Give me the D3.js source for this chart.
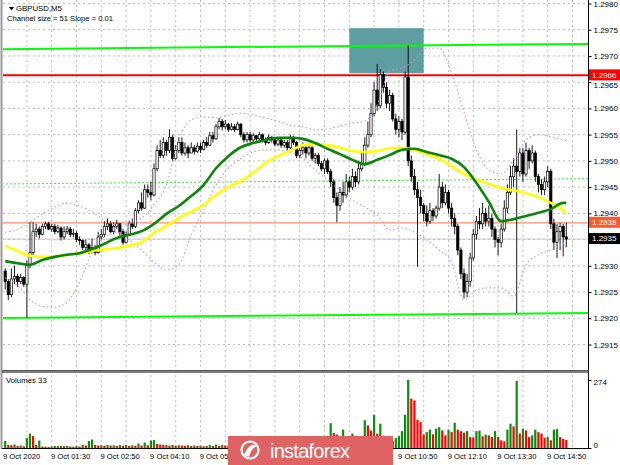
<!DOCTYPE html>
<html><head><meta charset="utf-8">
<script src="https://cdn.jsdelivr.net/npm/d3@7"></script>
<style>
html,body{margin:0;padding:0;background:#fff;}
svg{display:block;}
text{font-family:"Liberation Sans",Arial,sans-serif;}
</style>
</head><body>
<svg id="c" width="620" height="465"></svg>
<script>
// ---------- DATA ----------
const symbolTitle = "GBPUSD,M5";
const channelText = "Channel size = 51 Slope = 0.01";
const volumeTitle = "Volumes 33";
const BASE = 1.29;          // all price arrays below are in pips above 1.2900
const firstBar = 3;         // first visible bar = 00:15 (5-minute bar number of the day)

const opens = [
29.0,27.0,24.5,27.5,28.0,27.0,27.8,26.5,30.0,32.5,
36.5,37.0,36.0,37.5,38.0,37.0,37.5,36.5,37.2,35.5,
36.5,37.0,36.0,36.2,35.0,34.8,33.5,34.0,32.8,33.5,
32.5,35.5,36.0,37.5,38.0,36.5,37.5,38.0,36.5,34.5,
36.0,38.0,37.5,40.5,42.0,41.0,44.5,44.0,43.5,48.5,
52.0,51.0,53.5,52.0,54.5,50.5,52.0,53.5,51.5,52.5,
51.5,52.5,51.8,52.8,52.2,53.5,53.0,54.8,54.2,56.5,
57.5,56.5,57.0,56.0,56.5,56.0,57.0,55.0,54.0,55.0,
54.0,54.8,54.2,55.0,54.0,53.5,54.5,54.0,53.2,54.0,
53.0,53.5,52.5,54.5,53.5,51.0,52.0,52.5,51.5,52.5,
50.5,51.0,49.5,48.5,50.0,48.0,46.0,43.0,41.5,44.0,
43.5,46.0,45.0,47.0,46.0,48.5,49.5,53.0,55.0,59.0,
63.5,60.5,66.5,64.0,61.0,62.5,58.0,56.0,57.5,55.5,
66.0,50.0,47.0,44.5,43.0,41.5,40.0,38.5,40.5,39.5,
41.0,45.0,42.0,44.0,41.0,39.0,37.5,33.0,28.5,25.0,
27.0,31.5,36.0,38.5,38.0,40.0,38.5,39.0,37.0,35.0,
34.5,37.0,41.0,44.0,47.0,49.0,48.0,51.5,47.5,52.0,
50.0,51.5,47.0,45.5,44.5,46.0,48.0,38.0,34.5,36.5,
37.5,35.5];
const highs = [
29.5,27.5,29.5,30.0,28.5,28.5,28.0,31.0,38.3,38.3,
38.0,37.5,38.0,38.4,38.4,38.0,38.0,37.8,37.5,37.5,
37.6,37.4,37.0,36.6,35.6,35.0,35.0,34.3,35.2,34.0,
36.5,37.0,38.5,39.0,38.5,38.3,38.8,38.2,37.0,36.5,
38.6,39.0,41.0,42.5,44.0,45.5,45.5,46.0,49.5,53.0,
54.0,54.5,54.0,56.0,55.0,53.0,54.5,54.5,53.5,53.0,
53.5,53.0,53.5,53.5,54.0,54.5,55.5,55.5,57.0,58.2,
58.0,57.8,57.2,57.2,57.0,57.5,57.2,55.5,55.5,55.5,
55.3,55.0,55.5,55.2,54.5,55.0,54.8,54.5,54.5,54.2,
54.0,54.0,55.0,54.8,53.8,52.5,53.5,52.8,53.2,52.8,
51.5,51.5,50.0,50.5,50.5,48.5,46.5,44.0,45.0,46.0,
47.5,47.0,48.5,48.0,50.0,51.5,54.5,57.5,61.0,65.0,
68.5,67.5,67.0,65.0,63.5,63.0,59.0,58.5,58.0,67.0,
72.0,51.0,48.5,46.0,44.5,42.0,41.5,42.0,41.0,41.5,
47.5,46.0,45.5,44.5,42.0,40.0,38.0,33.5,29.5,28.5,
32.5,37.0,39.5,41.0,42.0,41.0,41.5,40.0,37.5,35.5,
38.0,42.5,45.5,49.0,50.5,56.0,52.5,52.5,53.5,52.5,
53.0,52.0,47.5,46.5,47.0,49.0,48.5,39.0,38.0,38.2,
38.0,38.2];
const lows = [
25.5,23.5,24.0,26.5,26.0,26.5,26.0,20.1,29.5,32.0,
35.5,35.2,35.8,37.0,36.8,36.5,36.0,36.2,34.8,35.0,
36.0,35.5,35.4,34.5,34.0,33.0,32.5,32.2,32.5,32.0,
32.3,35.0,35.5,36.8,36.0,36.0,37.0,35.5,34.0,34.2,
35.8,37.0,37.2,40.0,40.5,40.8,43.0,42.5,43.2,48.0,
50.5,50.5,51.0,51.5,50.0,50.2,51.5,51.0,51.0,50.5,
51.5,51.2,51.5,51.5,52.0,52.5,52.8,53.5,54.0,56.0,
55.8,56.0,55.5,55.8,55.5,55.8,54.5,53.5,53.5,53.5,
53.5,53.8,54.0,53.5,53.0,53.2,53.5,52.8,52.8,52.5,
52.5,52.0,52.2,53.0,50.5,50.5,51.2,50.5,51.0,50.0,
49.5,49.0,48.0,47.5,47.5,45.0,42.0,38.3,40.5,42.0,
43.0,44.0,44.5,45.0,45.5,48.0,49.0,52.5,54.5,58.5,
59.5,60.0,63.0,60.0,59.5,57.5,55.0,54.5,54.0,55.0,
49.0,46.0,43.5,29.8,40.0,38.5,37.5,38.0,38.5,39.0,
40.5,41.0,41.5,40.0,37.5,36.0,32.0,27.5,23.8,24.0,
26.0,31.0,35.0,37.0,37.0,37.5,37.5,35.5,33.5,32.0,
33.5,36.5,40.0,43.5,45.0,21.0,47.0,46.0,47.0,48.5,
49.5,46.0,44.0,43.5,43.5,45.0,37.0,33.0,31.5,33.0,
31.8,33.5];
const closes = [
27.0,24.5,27.5,28.0,27.0,27.8,26.5,30.0,32.5,36.5,
37.0,36.0,37.5,38.0,37.0,37.5,36.5,37.2,35.5,36.5,
37.0,36.0,36.2,35.0,34.8,33.5,34.0,32.8,33.5,32.5,
35.5,36.0,37.5,38.0,36.5,37.5,38.0,36.5,34.5,36.0,
38.0,37.5,40.5,42.0,41.0,44.5,44.0,43.5,48.5,52.0,
51.0,53.5,52.0,54.5,50.5,52.0,53.5,51.5,52.5,51.5,
52.5,51.8,52.8,52.2,53.5,53.0,54.8,54.2,56.5,57.5,
56.5,57.0,56.0,56.5,56.0,57.0,55.0,54.0,55.0,54.0,
54.8,54.2,55.0,54.0,53.5,54.5,54.0,53.2,54.0,53.0,
53.5,52.5,54.5,53.5,51.0,52.0,52.5,51.5,52.5,50.5,
51.0,49.5,48.5,50.0,48.0,46.0,43.0,41.5,44.0,43.5,
46.0,45.0,47.0,46.0,48.5,49.5,53.0,55.0,59.0,63.5,
60.5,66.5,64.0,61.0,62.5,58.0,56.0,57.5,55.5,66.0,
50.0,47.0,44.5,43.0,41.5,40.0,38.5,40.5,39.5,41.0,
45.0,42.0,44.0,41.0,39.0,37.5,33.0,28.5,25.0,27.0,
31.5,36.0,38.5,38.0,40.0,38.5,39.0,37.0,35.0,34.5,
37.0,41.0,44.0,47.0,49.0,48.0,51.5,47.5,52.0,50.0,
51.5,47.0,45.5,44.5,46.0,48.0,38.0,34.5,36.5,37.5,
35.5,35.1];
const volumes = [
28,12,11,14,8,10,7,40,58,48,
12,30,6,5,4,6,8,7,9,7,
8,6,5,8,6,12,10,28,34,12,
10,11,9,12,10,11,8,12,9,12,
8,11,9,18,10,22,11,30,32,16,
14,12,13,10,12,9,11,10,9,11,
8,10,8,9,7,8,12,8,14,9,
12,10,8,11,9,12,10,8,9,14,
10,9,12,10,8,11,9,13,10,9,
14,10,16,12,20,14,12,15,11,18,
14,16,22,18,30,100,60,54,40,74,
40,36,58,30,40,30,112,91,70,134,
58,98,50,45,40,30,40,48,68,134,
274,199,192,114,105,55,64,74,55,78,
84,71,51,74,64,102,74,68,62,68,
44,43,68,70,47,54,51,44,68,44,
31,27,74,98,87,270,58,78,71,44,
51,74,64,58,40,44,31,74,76,44,
37,33];

// indicator lines read at every 4th bar
const maBars = [3,7,11,15,19,23,27,31,35,39,43,47,51,55,59,63,67,71,75,79,83,87,91,95,99,103,107,111,115,119,123,127,131,135,139,143,147,151,155,159,163,167,171,175,179,183,184];
const maYellow = [33.8,32.8,31.9,31.7,31.8,32.1,32.4,32.8,33.1,33.4,33.8,34.5,36.3,37.6,39.1,40.3,41.6,43.5,45.0,46.2,47.7,49.6,50.9,51.9,53.0,53.2,53.0,52.5,51.9,51.7,51.9,52.4,52.5,52.1,51.3,50.4,49.0,47.5,46.4,45.6,44.8,44.4,43.9,43.1,42.0,40.6,40.1];
const maGreen = [30.9,30.5,30.2,31.1,31.7,32.1,32.4,33.2,34.2,35.3,35.9,36.6,38.0,39.9,41.4,43.3,45.4,48.6,50.9,52.6,53.4,54.0,54.4,54.4,54.2,53.4,52.3,51.3,50.2,49.4,50.2,51.1,52.1,52.3,51.7,51.1,50.4,48.8,45.8,42.2,38.5,38.9,39.5,40.1,40.8,42.0,42.0];
const bandUpper = [36.4,37.0,38.3,39.9,41.2,42.0,41.4,40.3,38.7,37.8,38.0,39.1,41.6,45.4,54.0,57.8,58.4,58.2,58.7,59.1,58.7,58.2,57.6,56.8,56.5,55.9,56.1,56.6,57.2,57.6,60.7,67.1,67.7,69.2,71.5,71.5,66.8,59.3,52.1,48.3,47.5,50.2,54.0,55.0,54.6,54.0,53.8];
const bandLower = [27.7,26.3,23.5,22.3,22.1,23.1,26.9,32.6,35.5,36.4,34.9,33.0,30.7,29.2,30.2,35.9,40.6,45.4,48.6,50.5,51.7,52.1,52.1,51.7,50.5,48.3,46.4,44.4,42.5,41.2,39.7,36.8,37.2,36.4,34.9,33.0,30.7,23.5,25.4,25.8,25.8,24.2,30.2,32.1,33.0,34.3,34.5];

// objects
const channelBars = [2, 191];
const channelTop = [71.3, 72.3];
const channelMid = [45.6, 46.6];
const channelBottom = [20.05, 21.0];
const levelRed = 66.3;
const levelOrange = 38.2;
const bidLevel = 35.1;
const zoneBars = [114, 138];
const zonePips = [66.7, 75.3];

const priceTicks = [1.2915,1.2920,1.2925,1.2930,1.2935,1.2940,1.2945,1.2950,1.2955,1.2960,1.2965,1.2970,1.2975,1.2980];
// labels that remain visible (06:50, 08:10, 09:30 are covered by the watermark in the reference)
const timeTickBars = [3,18,34,50,66,130,146,162,178];
const timeTickLabels = ["9 Oct 2020","9 Oct 01:30","9 Oct 02:50","9 Oct 04:10","9 Oct 05:30","9 Oct 10:50","9 Oct 12:10","9 Oct 13:30","9 Oct 14:50"];
const gridBars = [10,18,26,34,42,50,58,66,74,82,90,98,106,114,122,130,138,146,154,162,170,178,186];
const volumeMax = 274;

// ---------- DRAW ----------
const P = v => BASE + v / 1e4;
const svg = d3.select("#c");
const L = 3, R = 588, MT = 0, MB = 370, VT = 373, VB = 448;

const x = d3.scaleLinear().domain([18, 178]).range([51.7, 547.7]);
const y = d3.scaleLinear().domain([1.2915, 1.2980]).range([344.5, 3.5]);
const yv = d3.scaleLinear().domain([0, volumeMax]).range([VB, 380]);

const defs = svg.append("defs");
defs.append("clipPath").attr("id","cm").append("rect").attr("x",L).attr("y",MT).attr("width",R-L).attr("height",MB-MT);
defs.append("clipPath").attr("id","cv").append("rect").attr("x",L).attr("y",VT).attr("width",R-L).attr("height",VB-VT);

svg.append("rect").attr("width",620).attr("height",465).attr("fill","#fff");

const gm = svg.append("g").attr("clip-path","url(#cm)");
const gv = svg.append("g").attr("clip-path","url(#cv)");

// grid
const gridCol = "#bdbdbd";
gm.selectAll(".hg").data(priceTicks).join("line")
  .attr("x1",L).attr("x2",R).attr("y1",d=>y(d)).attr("y2",d=>y(d))
  .attr("stroke",gridCol).attr("stroke-dasharray","2,3").attr("stroke-width",1);
[gm, gv].forEach(g => g.selectAll(".vg").data(gridBars).join("line")
  .attr("x1",d=>x(d)).attr("x2",d=>x(d)).attr("y1",0).attr("y2",VB)
  .attr("stroke",gridCol).attr("stroke-dasharray","2,3").attr("stroke-width",1));

// zone rectangle (background object)
gm.append("rect")
  .attr("x",x(zoneBars[0])).attr("width",x(zoneBars[1])-x(zoneBars[0]))
  .attr("y",y(P(zonePips[1]))).attr("height",y(P(zonePips[0]))-y(P(zonePips[1])))
  .attr("fill","#5f9ea0");

// horizontal levels
function hline(v, col, w, dash){
  gm.append("line").attr("x1",L).attr("x2",R).attr("y1",y(P(v))).attr("y2",y(P(v)))
    .attr("stroke",col).attr("stroke-width",w).attr("stroke-dasharray",dash||null);
}
hline(bidLevel, "#c8c8c8", 1);
hline(levelOrange, "#ff8a66", 1.2);
hline(levelRed, "#ff0000", 2);

// channel
function chan(v, col, w, dash){
  gm.append("line").attr("x1",x(channelBars[0])).attr("x2",x(channelBars[1]))
    .attr("y1",y(P(v[0]))).attr("y2",y(P(v[1])))
    .attr("stroke",col).attr("stroke-width",w).attr("stroke-dasharray",dash||null);
}
chan(channelTop, "#00ff00", 2);
chan(channelBottom, "#00ff00", 2);
chan(channelMid, "#33ee33", 1, "2,2");

// candles
const bars = closes.map((c,i)=>({t:firstBar+i, o:opens[i], h:highs[i], l:lows[i], c}));
gm.selectAll(".wick").data(bars).join("line")
  .attr("x1",d=>x(d.t)).attr("x2",d=>x(d.t))
  .attr("y1",d=>y(P(d.h))).attr("y2",d=>y(P(d.l)))
  .attr("stroke","#000").attr("stroke-width",0.9);
gm.selectAll(".body").data(bars).join("rect")
  .attr("x",d=>x(d.t)-1.15).attr("width",2.3)
  .attr("y",d=>y(P(Math.max(d.o,d.c))))
  .attr("height",d=>Math.max(0.8, Math.abs(y(P(d.o))-y(P(d.c)))))
  .attr("fill",d=>d.c>=d.o?"#fff":"#000")
  .attr("stroke","#000").attr("stroke-width",0.7);

// bands and MAs
const line = arr => d3.line().x((d,i)=>x(maBars[i])).y(d=>y(P(d))).curve(d3.curveMonotoneX)(arr);
[bandUpper, bandLower].forEach(b=>gm.append("path").attr("d",line(b))
  .attr("fill","none").attr("stroke","#c98fdc").attr("stroke-width",1.1).attr("stroke-dasharray","1.5,2.5"));
gm.append("path").attr("d",line(maYellow)).attr("fill","none").attr("stroke","#ffff00").attr("stroke-width",2.6);
gm.append("path").attr("d",line(maGreen)).attr("fill","none").attr("stroke","#0b860b").attr("stroke-width",2.6);

// volumes
gv.selectAll(".vol").data(volumes).join("rect")
  .attr("x",(d,i)=>x(firstBar+i)-1.1).attr("width",2.2)
  .attr("y",d=>yv(d)).attr("height",d=>VB-yv(d))
  .attr("fill",(d,i)=> i>0 && d>volumes[i-1] ? "#0a8f0a" : (i===0 ? "#0a8f0a" : "#ff0000"));

// frame
svg.append("line").attr("x1",1.5).attr("x2",1.5).attr("y1",0).attr("y2",VB+1).attr("stroke","#9a9a9a").attr("stroke-width",2);
svg.append("line").attr("x1",R+0.5).attr("x2",R+0.5).attr("y1",0).attr("y2",VB+1).attr("stroke","#000").attr("stroke-width",1);
svg.append("line").attr("x1",2).attr("x2",R+1).attr("y1",370.5).attr("y2",370.5).attr("stroke","#555").attr("stroke-width",1);
svg.append("line").attr("x1",2).attr("x2",R+1).attr("y1",372).attr("y2",372).attr("stroke","#000").attr("stroke-width",1.2);
svg.append("line").attr("x1",2).attr("x2",R+1).attr("y1",VB+0.5).attr("y2",VB+0.5).attr("stroke","#000").attr("stroke-width",1);

// price axis
const ax = svg.append("g").attr("transform",`translate(${R+0.5},0)`)
  .call(d3.axisRight(y).tickValues(priceTicks).tickFormat(d3.format(".4f")).tickSize(3).tickPadding(2));
ax.select(".domain").remove();
ax.selectAll("text").attr("font-size",8).attr("font-family","Liberation Sans, Arial, sans-serif").attr("fill","#000")
  .attr("dy", d => Math.abs(d-1.2965) < 1e-6 ? "0.62em" : "0.32em");
ax.selectAll("line").attr("stroke","#000");

// price label boxes
function priceBox(v, fill){
  const yy = y(P(v));
  svg.append("rect").attr("x",R+1).attr("y",yy-6).attr("width",31).attr("height",11).attr("fill",fill);
  svg.append("text").attr("x",R+4).attr("y",yy+2.3).attr("font-size",8).attr("fill","#fff").text(d3.format(".4f")(P(v)));
}
priceBox(levelRed, "#ff0000");
priceBox(levelOrange, "#ff5a26");
priceBox(bidLevel, "#000000");

// volume axis
const vax = svg.append("g").attr("transform",`translate(${R+0.5},0)`)
  .call(d3.axisRight(yv).tickValues([0, volumeMax]).tickSize(3).tickPadding(2));
vax.select(".domain").remove();
vax.selectAll("text").attr("font-size",8).attr("font-family","Liberation Sans, Arial, sans-serif").attr("fill","#000")
  .attr("dy",(d)=> d===0 ? "-0.1em" : "0.6em");
vax.selectAll("line").attr("stroke","#000");

// time labels
svg.selectAll(".tl").data(timeTickBars).join("text")
  .attr("x",(d,i)=> i===0 ? 3 : x(d)-0.8).attr("y",459).attr("font-size",7.6).attr("fill","#000")
  .text((d,i)=>timeTickLabels[i]);

// titles
svg.append("path").attr("d","M9,7 L14,7 L11.5,10.5 Z").attr("fill","#000");
svg.append("text").attr("x",16).attr("y",11).attr("font-size",7.8).attr("fill","#000").text(symbolTitle);
svg.append("text").attr("x",7).attr("y",21).attr("font-size",7.6).attr("fill","#000").text(channelText);
svg.append("text").attr("x",6).attr("y",383).attr("font-size",7.8).attr("fill","#000").text(volumeTitle);

// watermark
const wm = svg.append("g");
wm.append("rect").attr("x",228).attr("y",436).attr("width",165).attr("height",29).attr("fill","#e06363");
wm.append("circle").attr("cx",250).attr("cy",450).attr("r",8.5).attr("fill","none").attr("stroke","#fff").attr("stroke-width",2.2);
wm.append("path").attr("d","M244,455 Q250,441 257,446 Q251,448 249,457 Z").attr("fill","#fff");
wm.append("text").attr("x",270).attr("y",458).attr("font-size",20).attr("font-family","Open Sans, sans-serif")
  .attr("fill","#fff").attr("textLength",80).text("instaforex");
</script>
</body></html>
